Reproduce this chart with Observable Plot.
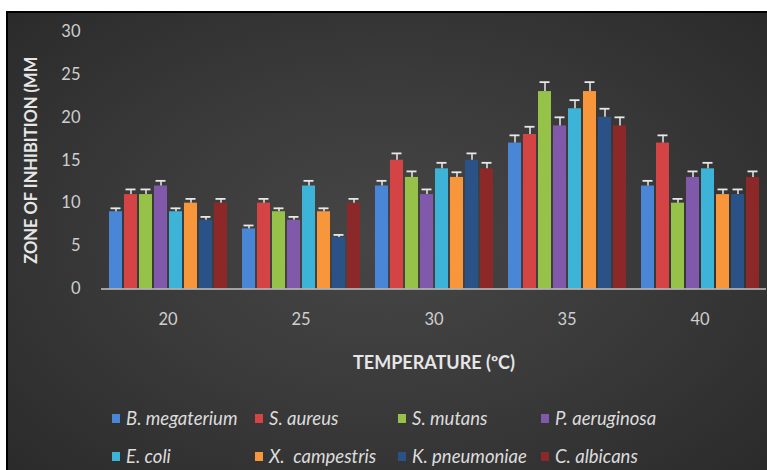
<!DOCTYPE html>
<html>
<head>
<meta charset="utf-8">
<script src="https://cdn.jsdelivr.net/npm/d3@7"></script>
<script src="https://cdn.jsdelivr.net/npm/@observablehq/plot@0.6"></script>
<style>
  body { margin: 0; background: #ffffff; }
  #wrap { position: relative; width: 767px; height: 470px; overflow: hidden; font-family: Lato, "Open Sans", sans-serif; }
  #bg { position: absolute; left: 6px; top: 11px; right: 0; bottom: 0;
        border-top: 2px solid #000; border-left: 2px solid #000;
        background: radial-gradient(ellipse 70% 75% at 50% 50%, #464646 0%, #3b3b3b 45%, #2a2a2a 100%); }
  #chart { position: absolute; left: 0; top: 0; }
  #chart svg { overflow: visible; }
  g[aria-label="y-axis label"] text { font-weight: bold; font-size: 16.5px; fill: #e6e6e6; }
  g[aria-label="fx-axis label"] text { font-weight: bold; font-size: 18px; fill: #e6e6e6; }
  #legend { position: absolute; left: 0; top: 0; width: 767px; height: 470px; pointer-events: none; }
  .item { position: absolute; display: flex; align-items: center; white-space: pre; height: 20px;
          font-style: italic; font-size: 18.5px; color: #dcdcdc; line-height: 20px; }
  .sw { width: 8px; height: 9px; margin-right: 6px; }
</style>
</head>
<body>
<div id="wrap">
  <div id="bg"></div>
  <div id="chart"></div>
  <div id="legend"></div>
</div>
<script>
// ---- data ----
const temperatures = ["20", "25", "30", "35", "40"];
const organisms = ["B. megaterium", "S. aureus", "S. mutans", "P. aeruginosa",
                   "E. coli", "X.  campestris", "K. pneumoniae", "C. albicans"];
const colors = ["#4a86d6", "#d44444", "#97c24a", "#8059aa", "#3db3d8", "#f7963a", "#2b5287", "#8c2828"];
const yTicks = [0, 5, 10, 15, 20, 25, 30];

// zone of inhibition (mm) per temperature, in organism order
const zone20 = [9, 11, 11, 12, 9, 10, 8, 10];
const zone25 = [7, 10, 9, 8, 12, 9, 6, 10];
const zone30 = [12, 15, 13, 11, 14, 13, 15, 14];
const zone35 = [17, 18, 23, 19, 21, 23, 20, 19];
const zone40 = [12, 17, 10, 13, 14, 11, 11, 13];

// error bar (upper) per temperature
const err20 = [0.4, 0.6, 0.6, 0.6, 0.4, 0.5, 0.4, 0.5];
const err25 = [0.4, 0.5, 0.4, 0.4, 0.6, 0.4, 0.3, 0.5];
const err30 = [0.6, 0.8, 0.7, 0.6, 0.7, 0.6, 0.8, 0.7];
const err35 = [0.9, 0.9, 1.1, 1.0, 1.0, 1.1, 1.0, 1.0];
const err40 = [0.6, 0.9, 0.5, 0.7, 0.7, 0.6, 0.6, 0.7];

const zones = [zone20, zone25, zone30, zone35, zone40];
const errs = [err20, err25, err30, err35, err40];

const table = [];
temperatures.forEach((t, i) => {
  organisms.forEach((o, j) => {
    table.push({temp: t, org: o, value: zones[i][j], err: errs[i][j]});
  });
});

// ---- chart ----
const chart = Plot.plot({
  width: 767,
  height: 390,
  marginLeft: 100,
  marginRight: 0,
  marginTop: 31,
  marginBottom: 101.5,
  style: {background: "transparent", color: "#cfcfcf", fontFamily: "Lato, 'Open Sans', sans-serif", fontSize: "16.5px"},
  fx: {domain: temperatures, padding: 0, axis: "bottom", tickSize: 0, tickPadding: 24,
       label: "TEMPERATURE (ºC)", labelAnchor: "center", labelOffset: 80},
  x: {domain: organisms, paddingInner: 0.165, paddingOuter: 0.36, axis: null},
  y: {domain: [0, 30], ticks: yTicks, tickSize: 0, tickPadding: 21,
      label: "ZONE OF INHIBITION (MM", labelAnchor: "center", labelOffset: 76, labelArrow: "none"},
  color: {domain: organisms, range: colors},
  marks: [
    Plot.barY(table, {fx: "temp", x: "org", y: "value", fill: "org"}),
    Plot.ruleX(table, {fx: "temp", x: "org", y1: "value", y2: d => d.value + d.err,
                       stroke: "#e8e8e8", strokeWidth: 1.5}),
    Plot.tickY(table, {fx: "temp", x: "org", y: d => d.value + d.err,
                       stroke: "#e8e8e8", strokeWidth: 1.8, insetLeft: 1.5, insetRight: 1.5}),
    Plot.ruleY([0], {stroke: "#c4c4c4", strokeWidth: 1.5})
  ]
});
document.getElementById("chart").appendChild(chart);

// ---- legend (HTML, Excel-style grid: 4 columns x 2 rows) ----
const legendCols = [112, 255, 398, 541];
const legendRows = [418, 456];
const legend = document.getElementById("legend");
organisms.forEach((o, i) => {
  const item = document.createElement("div");
  item.className = "item";
  item.style.left = legendCols[i % 4] + "px";
  item.style.top = (legendRows[Math.floor(i / 4)] - 10) + "px";
  const sw = document.createElement("span");
  sw.className = "sw";
  sw.style.background = colors[i];
  const label = document.createElement("span");
  label.textContent = o;
  item.appendChild(sw);
  item.appendChild(label);
  legend.appendChild(item);
});
</script>
</body>
</html>
